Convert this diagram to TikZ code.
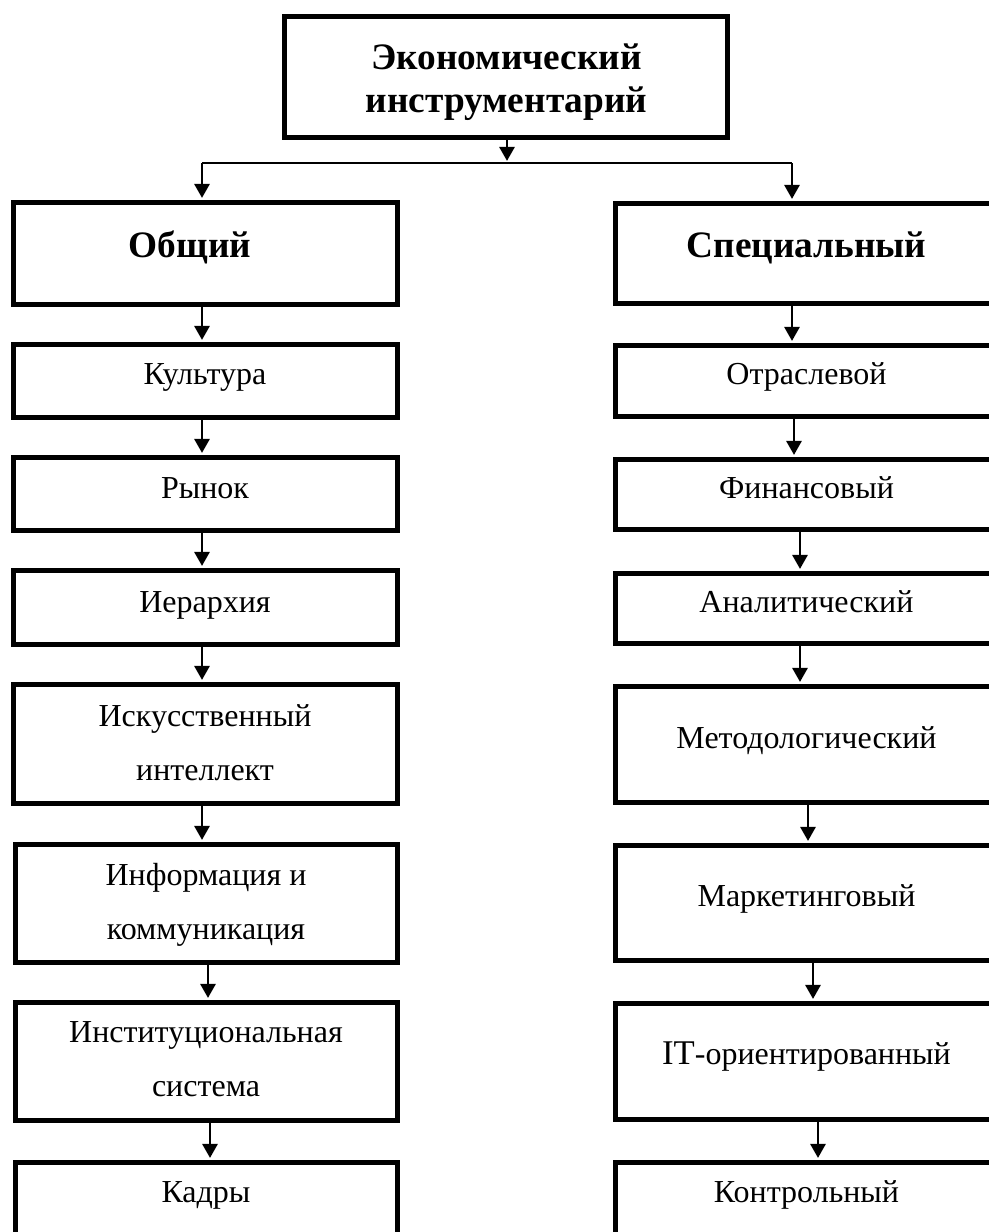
\documentclass[tikz,border=0pt]{standalone}
\usepackage{fontspec}
\setmainfont{Liberation Serif}
\usetikzlibrary{arrows.meta,fit}
\newcommand{\twolines}[2]{\begin{tabular}[t]{@{}c@{}}#1\\#2\end{tabular}}
\begin{document}
\begin{tikzpicture}[x=0.75pt,y=-0.75pt,
  box/.style={draw, line width=3.75pt, inner sep=0pt, rectangle},
  conn/.style={line width=1.5pt},
  arr/.style={line width=1.5pt, -{Triangle[width=11.5pt,length=10.5pt]}, shorten >=1.6pt},
  txt/.style={inner sep=0pt, anchor=base, font=\fontsize{24}{40.5}\selectfont},
  btxt/.style={inner sep=0pt, anchor=base, font=\bfseries\fontsize{28}{32.25}\selectfont}
]
\useasboundingbox (0,0) rectangle (989,1232);
\clip (0,0) rectangle (989,1232);
\fill[white] (0,0) rectangle (989,1232);

% top box
\node[box, fit={(284.5,16.5) (727.5,137.5)}] (top) {};
\node[btxt] (ttop) at (506.5,69) {\begin{tabular}[t]{@{}c@{}}Экономический\\инструментарий\end{tabular}};

% left column
\node[box, fit={(13.5,202.5) (397.5,304.5)}] (obsh) {};
\node[box, fit={(13.5,344.5) (397.5,417.5)}] (kult) {};
\node[box, fit={(13.5,457.5) (397.5,530.5)}] (rynok) {};
\node[box, fit={(13.5,570.5) (397.5,644.5)}] (ier) {};
\node[box, fit={(13.5,684.5) (397.5,803.5)}] (ii) {};
\node[box, fit={(15.5,844.5) (397.5,962.5)}] (inf) {};
\node[box, fit={(15.5,1002.5) (397.5,1120.5)}] (inst) {};
\node[box, fit={(15.5,1162.5) (397.5,1270)}] (kadr) {};

% right column
\node[box, fit={(615.5,203.5) (1000,303.5)}] (spec) {};
\node[box, fit={(615.5,345.5) (1000,416.5)}] (otr) {};
\node[box, fit={(615.5,459.5) (1000,529.5)}] (fin) {};
\node[box, fit={(615.5,573.5) (1000,643.5)}] (anal) {};
\node[box, fit={(615.5,686.5) (1000,802.5)}] (metod) {};
\node[box, fit={(615.5,845.5) (1000,960.5)}] (mark) {};
\node[box, fit={(615.5,1003.5) (1000,1119.5)}] (itor) {};
\node[box, fit={(615.5,1162.5) (1000,1270)}] (kontr) {};

% texts
\node[btxt] (tobsh) at (190,257) {Общий};
\node[btxt] (tspec) at (806.5,257) {Специальный};
\node[txt] (tkult) at (205,384) {Культура};
\node[txt] (trynok) at (205,498) {Рынок};
\node[txt] (tier) at (205,612) {Иерархия};
\node[txt] (tii) at (205,726) {\twolines{Искусственный}{интеллект}};
\node[txt] (tinf) at (206,885) {\twolines{Информация и}{коммуникация}};
\node[txt] (tinst) at (206,1042) {\twolines{Институциональная}{система}};
\node[txt] (tkadr) at (206,1202) {Кадры};
\node[txt] (totr) at (806.5,384) {Отраслевой};
\node[txt] (tfin) at (806.5,498) {Финансовый};
\node[txt] (tanal) at (806.5,612) {Аналитический};
\node[txt] (tmetod) at (806.5,748) {Методологический};
\node[txt] (tmark) at (806.5,906) {Маркетинговый};
\node[txt] (titor) at (806.5,1064) {{\fontsize{26}{30}\selectfont IT}-ориентированный};
\node[txt] (tkontr) at (806.5,1202) {Контрольный};

% top connectors
\coordinate (j) at (507,163);
\coordinate (jl) at (202,163);
\coordinate (jr) at (792,163);
\draw[arr] (top.south -| j) -- (j);
\draw[conn] (jl) -- (jr);
\draw[arr] (jl) -- (obsh.north -| jl);
\draw[arr] (jr) -- (spec.north -| jr);

% column connectors
\foreach \a/\b/\x in {obsh/kult/202, kult/rynok/202, rynok/ier/202, ier/ii/202, ii/inf/202, inf/inst/208, inst/kadr/210,
  spec/otr/792, otr/fin/794, fin/anal/800, anal/metod/800, metod/mark/808, mark/itor/813, itor/kontr/818}{
  \coordinate (ax) at (\x,0);
  \draw[arr] (\a.south -| ax) -- (\b.north -| ax);
}
\end{tikzpicture}
\end{document}
